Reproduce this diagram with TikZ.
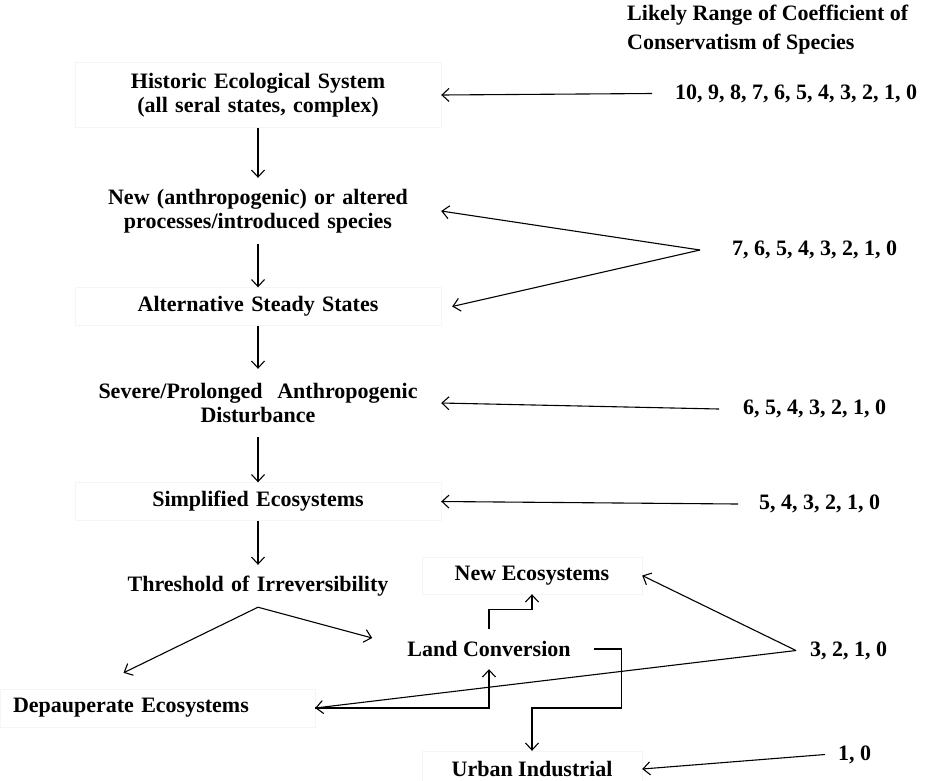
\documentclass[tikz,border=0pt]{standalone}
\usepackage{fontspec}
\setmainfont{Liberation Serif}
\usepackage{tikz}
\usetikzlibrary{arrows.meta}

\begin{document}
\begin{tikzpicture}[x=1pt, y=-1pt,
    lbl/.style={font=\fontsize{22}{24}\selectfont\bfseries, inner sep=0pt},
    col/.style={lbl, text width=366pt, align=center},
    faint/.style={draw=black!4},
    num/.style={lbl, anchor=west},
    arr/.style={-{Straight Barb[length=7pt, width=13pt]}, line width=1.1pt}]
    \useasboundingbox (0, 0) rectangle (925, 780);

    \node[lbl, anchor=west, align=left, font=\fontsize{22}{29}\selectfont\bfseries] (head) at (627, 29.5) {Likely Range of Coefficient of\\Conservatism of Species};

    % main sequence
    \node[col, faint, minimum height=65pt] (hist) at (258, 95) {Historic Ecological System\\(all seral states, complex)};
    \node[col, minimum height=66pt] (new) at (258, 211) {New (anthropogenic) or altered\\processes/introduced species};
    \node[col, faint, minimum height=38pt] (alt) at (258, 306.5) {Alternative Steady States};
    \node[col, minimum height=68pt] (sev) at (258, 403) {Severe/Prolonged\ \ Anthropogenic\\Disturbance};
    \node[col, faint, minimum height=38pt] (simp) at (258, 501.5) {Simplified Ecosystems};
    \node[col, minimum height=42pt] (thr) at (258, 586) {Threshold of Irreversibility};

    \node[lbl, faint, text width=289pt, align=left, inner xsep=13pt, minimum height=38pt] (dep) at (157.5, 708) {Depauperate Ecosystems};
    \node[lbl, inner xsep=23pt, minimum height=40pt] (land) at (489, 649) {Land Conversion};
    \node[lbl, faint, minimum width=220pt, minimum height=37pt] (newe) at (532, 575.5) {New Ecosystems};
    \node[lbl, faint, minimum width=220pt, minimum height=36pt] (urb) at (532, 769) {Urban Industrial};

    % coefficient ranges
    \node[num] (r10) at (675, 93.5) {10, 9, 8, 7, 6, 5, 4, 3, 2, 1, 0};
    \node[num] (r7) at (732, 250) {7, 6, 5, 4, 3, 2, 1, 0};
    \node[num] (r6) at (743, 409) {6, 5, 4, 3, 2, 1, 0};
    \node[num] (r5) at (759, 504) {5, 4, 3, 2, 1, 0};
    \node[num] (r3) at (810, 650.5) {3, 2, 1, 0};
    \node[num] (r1) at (838, 754.5) {1, 0};

    \foreach \a/\b in {hist/new, new/alt, alt/sev, sev/simp, simp/thr}
        \draw[arr] (\a.south) -- (\b.north);

    \draw[arr] (thr.south) -- ([shift={(-34pt,16pt)}]dep.north);
    \draw[arr] (thr.south) -- ([shift={(-12pt,11pt)}]land.west);
    \draw[arr] (land.north) -- ++(0, -19) -| (newe.south);
    \draw[arr] (land.east) -- ++(28, 0) -- ++(0, 59) -| (urb.north);
    \draw[arr] (dep.east) -| (land.south);

    \draw[arr] ([xshift=-23pt]r10.west) -- (hist.east);
    \draw[arr] ([xshift=-32pt]r7.west) -- (new.east);
    \draw[arr] ([xshift=-32pt]r7.west) -- ([xshift=11pt]alt.east);
    \draw[arr] ([xshift=-24pt]r6.west) -- (sev.east);
    \draw[arr] ([xshift=-21pt]r5.west) -- (simp.east);
    \draw[arr] ([xshift=-14pt]r3.west) -- (newe.east);
    \draw[arr] ([xshift=-14pt]r3.west) -- (dep.east);
    \draw[arr] ([xshift=-13pt]r1.west) -- (urb.east);
\end{tikzpicture}
\end{document}
